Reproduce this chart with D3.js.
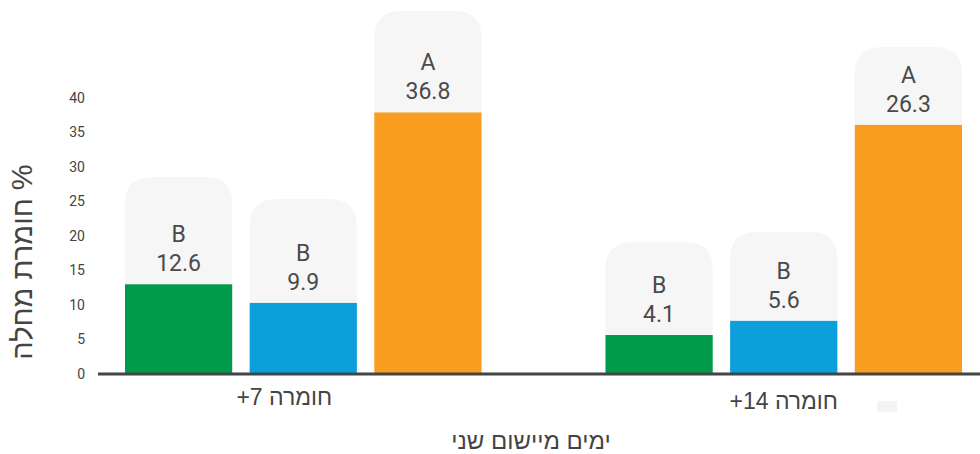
<!DOCTYPE html>
<html>
<head>
<meta charset="utf-8">
<script src="https://cdn.jsdelivr.net/npm/d3@7"></script>
<style>
  html, body { margin: 0; padding: 0; background: #fff; }
  svg { display: block; }
  .heb { font-family: "Liberation Sans", "DejaVu Sans", sans-serif; }
  .num { font-family: Roboto, "Open Sans", sans-serif; }
</style>
</head>
<body>
<div id="chart"></div>
<script>
// categories on the x axis (logical Hebrew order)
var categories = ["חומרה 7+", "חומרה 14+"];
var seriesNames = ["green", "blue", "orange"];
var seriesColors = ["#009a4b", "#0ba0dc", "#f89d1f"];

// bar heights per series, one value per category
var greenValues = [13.0, 5.65];
var blueValues = [10.3, 7.7];
var orangeValues = [37.9, 36.1];

// upper edge of the grey label box behind each bar (same units)
var greenBoxTop = [28.55, 19.1];
var blueBoxTop = [25.35, 20.6];
var orangeBoxTop = [52.6, 47.4];

// label texts shown in the boxes
var greenLetters = ["B", "B"];
var blueLetters = ["B", "B"];
var orangeLetters = ["A", "A"];
var greenLabels = ["12.6", "4.1"];
var blueLabels = ["9.9", "5.6"];
var orangeLabels = ["36.8", "26.3"];

var yTicks = [0, 5, 10, 15, 20, 25, 30, 35, 40];
var yTitle = "% חומרת מחלה";
var xTitle = "ימים מיישום שני";

var width = 980, height = 454;

var valuesBySeries = [greenValues, blueValues, orangeValues];
var boxBySeries = [greenBoxTop, blueBoxTop, orangeBoxTop];
var lettersBySeries = [greenLetters, blueLetters, orangeLetters];
var labelsBySeries = [greenLabels, blueLabels, orangeLabels];

var rows = [];
categories.forEach(function (c, ci) {
  seriesNames.forEach(function (s, si) {
    rows.push({
      cat: c, ci: ci, series: s, si: si,
      value: valuesBySeries[si][ci],
      box: boxBySeries[si][ci],
      letter: lettersBySeries[si][ci],
      label: labelsBySeries[si][ci]
    });
  });
});

var svg = d3.select('#chart').append('svg')
  .attr('width', width).attr('height', height);

var x0 = d3.scaleBand().domain(categories).range([125, 962])
  .paddingInner(0.258).paddingOuter(0);
var x1 = d3.scaleBand().domain(seriesNames).range([0, x0.bandwidth()])
  .paddingInner(0.14).paddingOuter(0);
var y = d3.scaleLinear().domain([0, 40]).range([374, 98]);

// grey label boxes with rounded top corners
function boxPath(d) {
  var xl = x0(d.cat) + x1(d.series), w = x1.bandwidth();
  var top = y(d.box), bot = y(0), r = 27;
  return 'M' + xl + ',' + bot +
    'V' + (top + r) +
    'Q' + xl + ',' + top + ' ' + (xl + r) + ',' + top +
    'H' + (xl + w - r) +
    'Q' + (xl + w) + ',' + top + ' ' + (xl + w) + ',' + (top + r) +
    'V' + bot + 'Z';
}

svg.append('g').selectAll('path')
  .data(rows).enter().append('path')
  .attr('d', boxPath)
  .attr('fill', '#f6f6f6');

svg.append('g').selectAll('rect')
  .data(rows).enter().append('rect')
  .attr('x', function (d) { return x0(d.cat) + x1(d.series); })
  .attr('width', x1.bandwidth())
  .attr('y', function (d) { return y(d.value); })
  .attr('height', function (d) { return y(0) - y(d.value); })
  .attr('fill', function (d) { return seriesColors[d.si]; });

var labels = svg.append('g').attr('class', 'num')
  .attr('text-anchor', 'middle').attr('fill', '#4a4a4a')
  .style('font-size', '23px');

labels.selectAll('text.val')
  .data(rows).enter().append('text').attr('class', 'val')
  .attr('x', function (d) { return x0(d.cat) + x1(d.series) + x1.bandwidth() / 2; })
  .attr('y', function (d) { return y(d.value) - 13; })
  .text(function (d) { return d.label; });

labels.selectAll('text.let')
  .data(rows).enter().append('text').attr('class', 'let')
  .attr('x', function (d) { return x0(d.cat) + x1(d.series) + x1.bandwidth() / 2; })
  .attr('y', function (d) { return y(d.value) - 42; })
  .text(function (d) { return d.letter; });

// y axis
var yAxis = svg.append('g').attr('class', 'num')
  .attr('transform', 'translate(98,0)')
  .call(d3.axisLeft(y).tickValues(yTicks).tickSize(0).tickPadding(13));
yAxis.select('.domain').remove();
yAxis.selectAll('text').attr('fill', '#444').style('font-size', '14px')
  .style('font-family', 'Roboto, sans-serif');

// baseline
svg.append('line')
  .attr('x1', 98).attr('x2', width)
  .attr('y1', y(0)).attr('y2', y(0))
  .attr('stroke', '#444').attr('stroke-width', 3);

// category labels (the second one sits a little lower in the source)
var catShift = [[-19, 405], [0, 409]];
svg.append('g').attr('class', 'heb').selectAll('text')
  .data(categories).enter().append('text')
  .attr('x', function (d, i) { return x0(d) + x0.bandwidth() / 2 + catShift[i][0]; })
  .attr('y', function (d, i) { return catShift[i][1]; })
  .attr('text-anchor', 'middle')
  .style('direction', 'rtl')
  .style('unicode-bidi', 'embed')
  .attr('fill', '#444')
  .style('font-size', '23px')
  .text(function (d) { return d; });

// small stray swatch under the last bar
svg.append('rect')
  .attr('x', 877).attr('y', 401).attr('width', 20).attr('height', 11)
  .attr('fill', '#f4f4f4');

// axis titles
svg.append('text').attr('class', 'heb')
  .attr('x', 531).attr('y', 449)
  .attr('text-anchor', 'middle')
  .style('direction', 'rtl').style('unicode-bidi', 'embed')
  .attr('fill', '#444').style('font-size', '24px')
  .text(xTitle);

svg.append('text').attr('class', 'heb')
  .attr('transform', 'translate(32,262) rotate(-90)')
  .attr('text-anchor', 'middle')
  .style('direction', 'rtl').style('unicode-bidi', 'embed')
  .attr('fill', '#444').style('font-size', '29px')
  .text(yTitle);
</script>
</body>
</html>
